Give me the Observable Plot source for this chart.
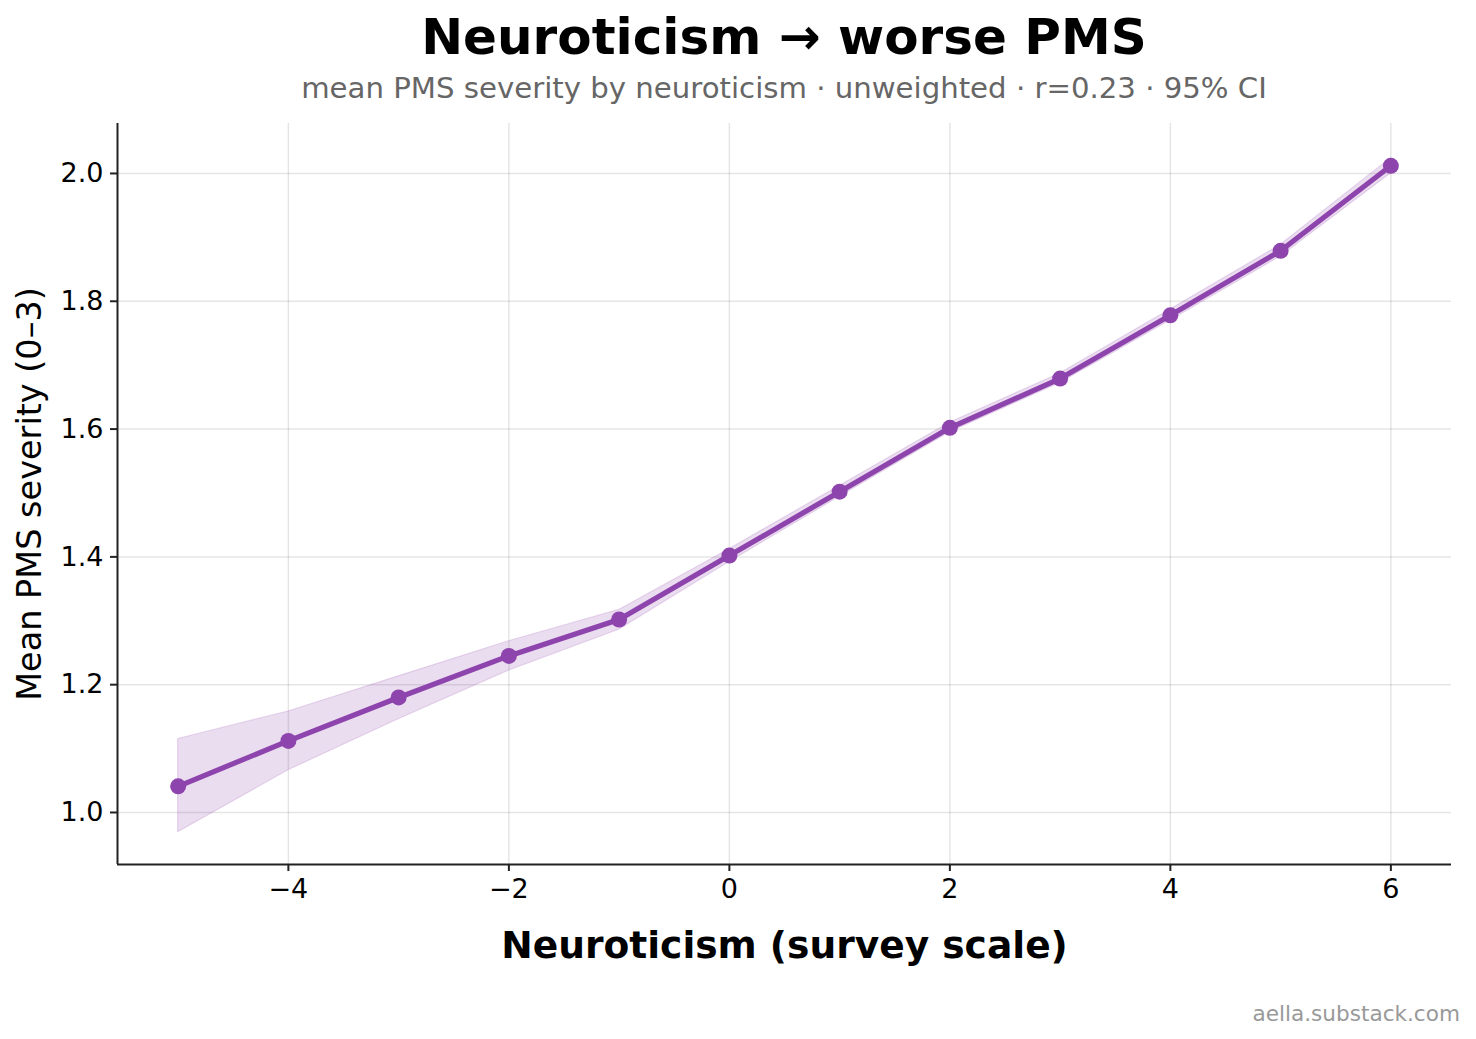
<!DOCTYPE html>
<html>
<head>
<meta charset="utf-8">
<script src="https://cdn.jsdelivr.net/npm/d3@7"></script>
<script src="https://cdn.jsdelivr.net/npm/@observablehq/plot@0.6"></script>
<style>
  html, body { margin: 0; padding: 0; background: #fff; }
  #wrap { position: relative; width: 1476px; height: 1039px; font-family: "DejaVu Sans", sans-serif; overflow: hidden; }
  #wrap svg { position: absolute; left: 0; top: 0; }
  .title { position: absolute; left: 117px; width: 1334px; top: 12px; text-align: center; font-size: 50px; font-weight: bold; line-height: 50px; color: #000; }
  .subtitle { position: absolute; left: 117px; width: 1334px; top: 74px; text-align: center; font-size: 29.2px; line-height: 29px; color: #666; }
  .footer { position: absolute; right: 16px; top: 1003px; font-size: 21.6px; line-height: 22px; color: #999; }
</style>
</head>
<body>
<div id="wrap">
  <div class="title" id="title"></div>
  <div class="subtitle" id="subtitle"></div>
  <div class="footer" id="footer"></div>
</div>
<script>
// ---- data ----
const titleText = "Neuroticism \u2192 worse PMS";
const subtitleText = "mean PMS severity by neuroticism \u00b7 unweighted \u00b7 r=0.23 \u00b7 95% CI";
const footerText = "aella.substack.com";
const xLabel = "Neuroticism (survey scale)";
const yLabel = "Mean PMS severity (0\u20133)";

const neuroticism = [-5, -4, -3, -2, -1, 0, 1, 2, 3, 4, 5, 6];
const meanPMS     = [1.041, 1.112, 1.180, 1.245, 1.302, 1.402, 1.502, 1.602, 1.679, 1.778, 1.879, 2.012];
const ciLow       = [0.969, 1.066, 1.146, 1.222, 1.286, 1.392, 1.494, 1.595, 1.672, 1.770, 1.870, 2.000];
const ciHigh      = [1.115, 1.158, 1.213, 1.268, 1.317, 1.412, 1.511, 1.610, 1.687, 1.787, 1.888, 2.024];

const xTicks = [-4, -2, 0, 2, 4, 6];
const yTicks = [1.0, 1.2, 1.4, 1.6, 1.8, 2.0];
const xDomain = [-5.55, 6.55];
const yDomain = [0.9186, 2.0782];

const purple = "#8e44ad";

// ---- build ----
const data = neuroticism.map((x, i) => ({x, mean: meanPMS[i], lo: ciLow[i], hi: ciHigh[i]}));

document.getElementById("title").textContent = titleText;
document.getElementById("subtitle").textContent = subtitleText;
document.getElementById("footer").textContent = footerText;

const chart = Plot.plot({
  width: 1476,
  height: 1039,
  marginLeft: 117,
  marginRight: 25,
  marginTop: 123,
  marginBottom: 175,
  style: {fontFamily: "DejaVu Sans, sans-serif", background: "transparent", color: "#000", overflow: "visible"},
  x: {domain: xDomain},
  y: {domain: yDomain},
  marks: [
    Plot.gridX(xTicks, {stroke: "#000", strokeOpacity: 0.1, strokeWidth: 1.5}),
    Plot.gridY(yTicks, {stroke: "#000", strokeOpacity: 0.1, strokeWidth: 1.5}),
    Plot.areaY(data, {x: "x", y1: "lo", y2: "hi", fill: purple, fillOpacity: 0.18, stroke: purple, strokeOpacity: 0.18, strokeWidth: 1.2}),
    Plot.line(data, {x: "x", y: "mean", stroke: purple, strokeWidth: 5.2}),
    Plot.dot(data, {x: "x", y: "mean", r: 8, fill: purple}),
    Plot.ruleY([yDomain[0]], {stroke: "#222", strokeWidth: 2}),
    Plot.ruleX([xDomain[0]], {stroke: "#222", strokeWidth: 2}),
    Plot.axisX(xTicks, {tickSize: 7, tickPadding: 7, fontSize: 27, label: null, stroke: "#222", strokeWidth: 2, tickFormat: d3.format("")}),
    Plot.axisY(yTicks, {tickSize: 7, tickPadding: 7, fontSize: 27, label: null, stroke: "#222", strokeWidth: 2, tickFormat: d3.format(".1f")}),
    Plot.text([xLabel], {frameAnchor: "bottom", dy: 93, fontSize: 37.6, fontWeight: "bold", fill: "#000"}),
    Plot.text([yLabel], {frameAnchor: "left", textAnchor: "middle", dx: -87, rotate: -90, fontSize: 33.5, fill: "#000"})
  ]
});

document.getElementById("wrap").prepend(chart);
</script>
</body>
</html>
